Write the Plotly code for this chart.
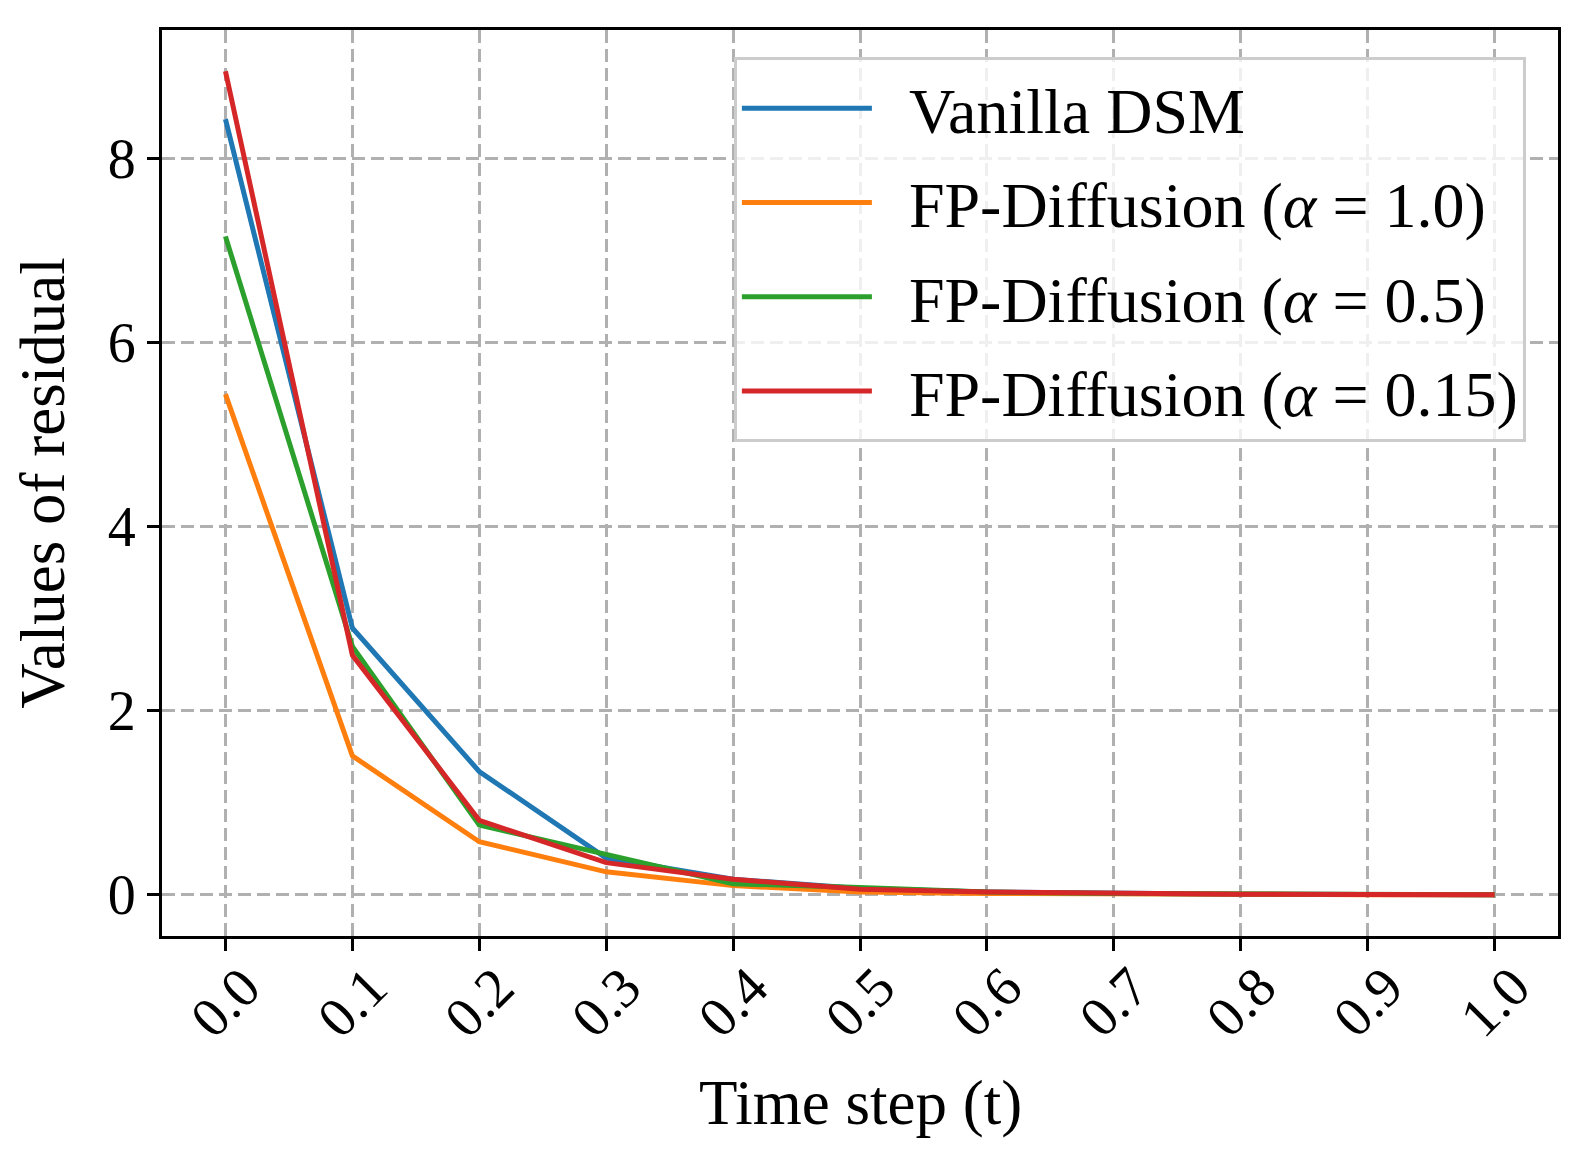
import plotly.graph_objects as go

# time steps and residual values
t = [0.0, 0.1, 0.2, 0.3, 0.4, 0.5, 0.6, 0.7, 0.8, 0.9, 1.0]
vanilla = [8.43, 2.90, 1.34, 0.40, 0.17, 0.07, 0.03, 0.015, 0.007, 0.004, 0.002]
fp_10 = [5.44, 1.51, 0.577, 0.25, 0.10, 0.03, 0.015, 0.008, 0.004, 0.002, 0.001]
fp_05 = [7.155, 2.70, 0.757, 0.44, 0.12, 0.08, 0.03, 0.015, 0.007, 0.004, 0.002]
fp_015 = [8.95, 2.605, 0.81, 0.35, 0.17, 0.06, 0.03, 0.014, 0.007, 0.003, 0.001]

names = ["Vanilla DSM",
         "FP-Diffusion (<i>α</i>&nbsp;=&nbsp;1.0)",
         "FP-Diffusion (<i>α</i>&nbsp;=&nbsp;0.5)",
         "FP-Diffusion (<i>α</i>&nbsp;=&nbsp;0.15)"]
colors = ["#1f77b4", "#ff7f0e", "#2ca02c", "#d62728"]
series = [vanilla, fp_10, fp_05, fp_015]

xtick_labels = ["0.0", "0.1", "0.2", "0.3", "0.4", "0.5", "0.6", "0.7", "0.8", "0.9", "1.0"]
ytick_vals = [0, 2, 4, 6, 8]

FONT = "Liberation Serif"
FS = 63

fig = go.Figure()
for i in range(len(series)):
    # a little padding between legend line and label, like matplotlib
    fig.add_trace(go.Scatter(x=t, y=series[i], name="&nbsp;&nbsp;" + names[i], mode='lines',
                             line=dict(color=colors[i], width=5),
                             legendgroup=str(i)))

grid = dict(showgrid=True, gridcolor="#b0b0b0", gridwidth=2.5, griddash="13px,6px",
            zeroline=False, showline=True, linecolor="black", linewidth=3, mirror=True,
            ticks="outside", ticklen=12, tickwidth=3, tickcolor="black")
fig.update_xaxes(range=[-0.05, 1.05], tickvals=t, showticklabels=False, **grid)
fig.update_yaxes(range=[-0.4475, 9.3975], tickvals=ytick_vals,
                 tickfont=dict(family=FONT, size=56, color="black"),
                 title=dict(text="Values of residual", font=dict(family=FONT, size=FS, color="black"),
                            standoff=24), **grid)

# rotated tick labels centred under the ticks (like matplotlib)
for i in range(len(t)):
    fig.add_annotation(x=t[i], y=-0.073, xref="x", yref="paper", text=xtick_labels[i],
                       textangle=-45, showarrow=False, xanchor="center", yanchor="middle",
                       font=dict(family=FONT, size=56, color="black"))
fig.add_annotation(x=0.5, y=-0.184, xref="paper", yref="paper", text="Time step (t)",
                   showarrow=False, xanchor="center", yanchor="middle",
                   font=dict(family=FONT, size=FS, color="black"))

fig.update_layout(
    width=1586, height=1168,
    margin=dict(l=154, r=36, t=22, b=240),
    plot_bgcolor="white", paper_bgcolor="white",
    font=dict(family=FONT, size=FS, color="black"),
    legend=dict(x=0.977, y=0.97, xanchor="right", yanchor="top",
                bgcolor="rgba(255,255,255,0.8)", bordercolor="#cccccc", borderwidth=3,
                font=dict(family=FONT, size=64, color="black"), tracegroupgap=8,
                itemwidth=130),
)

fig.write_html("out.html")
